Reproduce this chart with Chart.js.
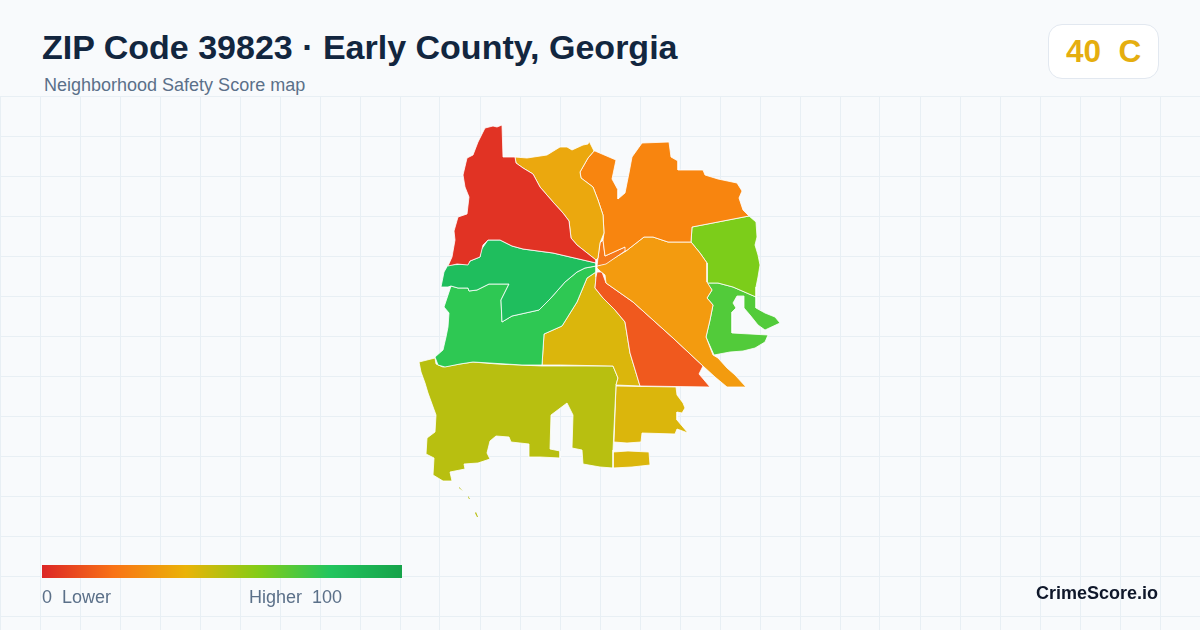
<!DOCTYPE html>
<html>
<head>
<meta charset="utf-8">
<title>ZIP Code 39823</title>
<script src="https://cdn.jsdelivr.net/npm/chart.js@4/dist/chart.umd.min.js"></script>
<style>
  html, body { margin: 0; padding: 0; }
  body { width: 1200px; height: 630px; background: #f8fafc; position: relative; overflow: hidden; font-family: "Liberation Sans", Arial, sans-serif; }
  #mapChart { position: absolute; left: 0; top: 96px; }
  .txt { position: absolute; white-space: pre; }
  #title { left: 42px; top: 27px; font-size: 34px; line-height: 40px; font-weight: 700; color: #12263f; }
  #subtitle { left: 44px; top: 75px; font-size: 18px; line-height: 20px; color: #5b7089; }
  #badge { position: absolute; left: 1048px; top: 24px; width: 109px; height: 53px; background: #fff; border: 1px solid #e2e8f0; border-radius: 14px; }
  #score { left: 1066px; top: 33px; font-size: 31.5px; line-height: 36px; font-weight: 700; color: #e5ae0f; }
  #legendBar { position: absolute; left: 42px; top: 565px; width: 360px; height: 13px; background: linear-gradient(90deg, #dc2626 0%, #f97316 20%, #eab308 40%, #84cc16 60%, #22c55e 80%, #16a34a 100%); }
  #legendLow { left: 42px; top: 587px; font-size: 18px; line-height: 20px; color: #5b7089; }
  #legendHigh { left: 249px; top: 587px; font-size: 18px; line-height: 20px; color: #5b7089; }
  #brand { right: 42px; top: 583px; font-size: 18px; line-height: 20px; font-weight: 700; color: #0f172a; }
</style>
</head>
<body>
<canvas id="mapChart" width="1200" height="534"></canvas>
<div class="txt" id="title">ZIP Code 39823 · Early County, Georgia</div>
<div class="txt" id="subtitle">Neighborhood Safety Score map</div>
<div id="badge"></div>
<div class="txt" id="score">40  C</div>
<div id="legendBar"></div>
<div class="txt" id="legendLow">0  Lower</div>
<div class="txt" id="legendHigh">Higher  100</div>
<div class="txt" id="brand">CrimeScore.io</div>
<script>
// boundaries, [x, y] in map units
const northWest = [[485,128],[493,126],[497,127],[502,125],[503,157],[515,157],[516,163],[523,168],[533,174],[540,187],[553,202],[563,213],[569,221],[571,238],[577,245],[596,260],[596,263],[553,253],[523,249],[512,246],[500,240],[488,240],[483,245],[480,257],[470,261],[468,265],[457,264],[448,266],[452,257],[455,240],[454,231],[458,217],[467,214],[469,197],[465,187],[463,175],[467,158],[473,155],[478,142]];
const northCentral = [[589,141],[594,151],[588,158],[580,172],[581,178],[593,187],[598,200],[603,215],[604,233],[600,243],[598,258],[596,260],[577,245],[571,238],[569,221],[563,213],[553,202],[540,187],[533,174],[523,168],[516,163],[515,157],[527,158],[547,155],[560,147],[567,147],[572,150],[583,145],[588,144]];
const northEast = [[594,151],[595,151],[616,160],[612,179],[618,190],[618,199],[625,193],[629,173],[632,157],[642,143],[669,142],[671,157],[678,161],[678,170],[703,170],[705,175],[718,179],[737,183],[742,191],[739,198],[743,210],[749,216],[692,227],[691,242],[668,242],[653,237],[644,237],[626,251],[625,247],[605,256],[603,240],[604,233],[603,215],[598,200],[593,187],[581,178],[580,172],[588,158]];
const hub = [[603,240],[605,256],[625,247],[628,249],[606,264],[597,266],[598,258],[600,243]];
const east = [[606,263],[626,251],[644,237],[653,237],[668,242],[691,242],[700,253],[707,263],[707,275],[707,282],[712,290],[707,298],[713,305],[710,320],[706,337],[713,355],[718,358],[727,368],[735,375],[746,387],[727,387],[715,377],[703,366],[673,338],[633,302],[606,283],[605,275],[600,271],[597,268],[597,266]];
const southEast = [[597,272],[602,272],[606,283],[633,302],[673,338],[703,366],[699,374],[710,387],[640,386],[630,353],[625,322],[615,310],[603,298],[595,288],[596,277]];
const farEast = [[749,216],[756,222],[757,237],[755,245],[758,255],[760,265],[758,277],[756,287],[756,297],[733,287],[718,283],[707,283],[707,275],[707,263],[700,253],[691,242],[692,227]];
const farEastLoop = [[707,283],[718,283],[733,287],[756,297],[756,308],[765,313],[775,317],[780,323],[765,330],[758,325],[750,315],[744,308],[744,296],[737,296],[733,303],[736,308],[732,312],[732,333],[768,335],[765,342],[755,348],[743,351],[730,352],[714,355],[706,337],[710,320],[713,305],[707,298],[712,290]];
const westCentral = [[488,240],[500,240],[512,246],[523,249],[553,253],[596,263],[596,266],[585,268],[577,272],[565,282],[550,299],[539,310],[512,316],[502,322],[501,300],[509,284],[489,284],[477,290],[469,291],[468,288],[458,288],[451,286],[448,287],[441,287],[444,272],[448,265],[468,264],[470,261],[480,257],[481,250]];
const southWest = [[451,286],[458,288],[468,288],[469,291],[477,290],[489,284],[509,284],[501,300],[502,322],[512,316],[539,310],[550,299],[565,282],[577,272],[585,268],[596,266],[596,272],[587,278],[577,302],[562,326],[544,334],[542,365],[522,365],[473,362],[460,364],[445,367],[438,365],[435,357],[443,350],[446,337],[448,327],[449,313],[444,307],[448,295]];
const central = [[596,272],[596,277],[595,288],[603,298],[615,310],[625,322],[630,353],[640,386],[616,385],[618,378],[613,366],[560,365],[542,365],[544,334],[562,326],[577,302],[587,278]];
const south = [[419,362],[435,358],[436,364],[443,367],[460,364],[473,362],[497,364],[542,366],[613,366],[618,378],[616,385],[613,450],[613,468],[600,467],[583,464],[582,450],[572,448],[573,415],[567,403],[551,415],[550,449],[560,451],[560,458],[540,457],[529,457],[529,444],[511,442],[509,437],[496,436],[490,441],[487,453],[490,459],[478,463],[464,464],[465,469],[450,472],[452,481],[443,481],[433,475],[434,458],[426,454],[427,438],[435,432],[436,415],[428,393],[425,383],[421,372]];
const southSpeckA = [[459,487],[463,491],[462,491],[459,488]];
const southSpeckB = [[468,496],[470,499],[469,499],[468,497]];
const southSpeckC = [[476,512],[478,517],[477,517],[475,513]];
const southEastLower = [[616,386],[676,387],[677,395],[683,403],[685,408],[682,413],[677,412],[677,420],[688,433],[677,429],[675,434],[642,433],[641,442],[627,443],[614,442]];
const southEastIsland = [[613,452],[628,451],[649,452],[650,465],[632,467],[613,468]];

const regions = [northWest, northCentral, northEast, hub, east, southEast, farEast, farEastLoop, westCentral, southWest, central, south, southSpeckA, southSpeckB, southSpeckC, southEastLower, southEastIsland];
const regionColors = ["#e13324", "#eba80e", "#f8850f", "#f5791a", "#f39b0f", "#f0591e", "#7ccd1a", "#52cb3a", "#1fbe5d", "#2ec853", "#dbb60c", "#b8bf10", "#b8bf10", "#b8bf10", "#b8bf10", "#dbb60c", "#dbb60c"];
const regionStrokes = [0.8, 0.8, 0.8, 0.8, 0.8, 0.8, 0.8, 0.8, 0.8, 0.8, 0.8, 0.8, 0, 0, 0, 0.8, 0.8];
const gridRows = [96, 136, 176, 216, 256, 296, 336, 376, 416, 456, 496, 536, 576, 616];

const datasets = regions.map((ring, i) => ({
    data: ring.concat([ring[0]]).map(p => ({ x: p[0], y: p[1] })),
    showLine: true,
    fill: "shape",
    tension: 0,
    pointRadius: 0,
    backgroundColor: regionColors[i],
    borderColor: "#ffffff",
    borderWidth: regionStrokes[i]
}));

new Chart(document.getElementById("mapChart"), {
    type: "scatter",
    data: { datasets: datasets },
    options: {
        responsive: false,
        animation: false,
        devicePixelRatio: 1,
        layout: { padding: 0 },
        plugins: { legend: { display: false }, tooltip: { enabled: false } },
        scales: {
            x: {
                type: "linear", min: 0, max: 1200,
                ticks: { display: false, stepSize: 40 },
                grid: { color: "#e8eff4", drawTicks: false },
                border: { display: false }
            },
            y: {
                type: "linear", min: 96, max: 630, reverse: true,
                afterBuildTicks: axis => { axis.ticks = gridRows.map(v => ({ value: v })); },
                ticks: { display: false },
                grid: { color: "#e8eff4", drawTicks: false },
                border: { display: false }
            }
        }
    }
});
</script>
</body>
</html>
